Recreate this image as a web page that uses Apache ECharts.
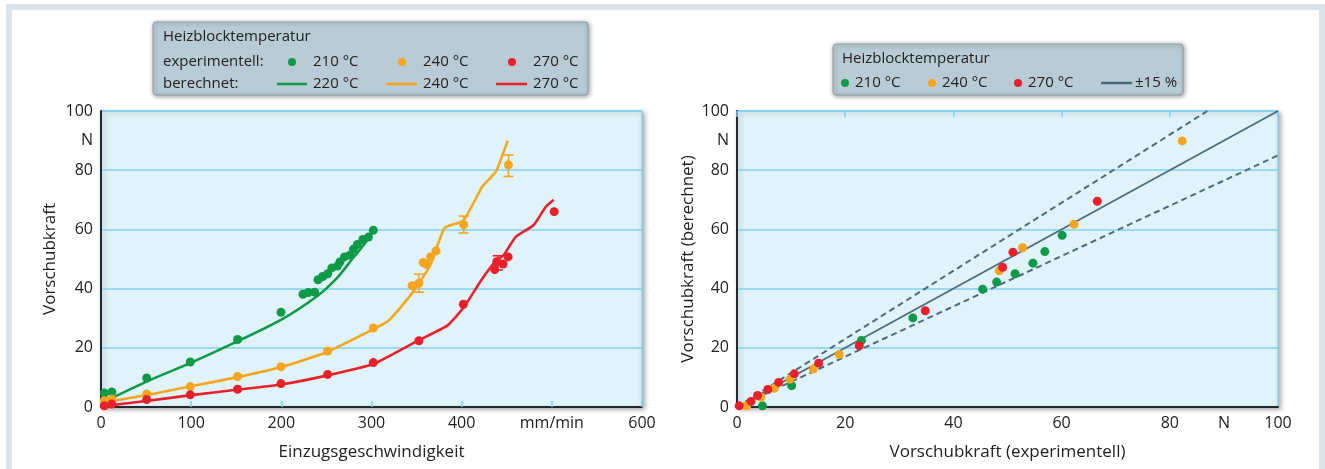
<!DOCTYPE html>
<html>
<head>
<meta charset="utf-8">
<script src="https://cdn.jsdelivr.net/npm/echarts@6/dist/echarts.min.js"></script>
<style>
  html, body { margin: 0; padding: 0; background: #fff; }
  #chart { width: 1325px; height: 469px; }
</style>
</head>
<body>
<div id="chart"></div>
<script>
  // left chart: Einzugsgeschwindigkeit (mm/min) vs Vorschubkraft (N)
  const exp210 = [[3.7, 4.7], [12, 5.1], [50.7, 9.8], [99, 15.2], [151.5, 22.8], [199.6, 32], [224, 38.1], [230, 38.7],
    [237, 38.8], [240.7, 43], [245.9, 44.1], [251.4, 45], [256, 47], [262.2, 47.6], [265, 49], [270, 50.7], [276, 51.3],
    [280, 53.3], [284.4, 54.9], [290.4, 56.6], [296.6, 57.4], [302, 59.7]]
  const exp240 = [[3.7, 2.1], [12, 2.7], [50.7, 4.4], [99, 6.9], [151.5, 10.3], [199.6, 13.6], [251.4, 18.9], [302, 26.7],
    [345, 41], [352.6, 41.8], [357.4, 48.8], [361, 48.2], [365.6, 50.8], [371.5, 52.7], [402.2, 61.6], [451.9, 81.8]]
  const exp270 = [[3.7, 0.4], [12, 1], [50.7, 2.5], [99, 4.1], [151.5, 6], [199.6, 7.9], [251.4, 11], [302, 15],
    [352.6, 22.4], [401.9, 34.7], [436.7, 46.4], [438.9, 49.1], [445.9, 48.3], [451.5, 50.7], [502.6, 66]]
  const calc220 = [[5, 2], [50, 8.5], [100, 15], [150, 22], [200, 29.5], [240, 37.5], [260, 43], [280, 50.5], [292, 55], [300, 58.5]]
  const calc240 = [[3, 1.5], [50, 4], [100, 7], [150, 10], [200, 13.5], [250, 18.5], [300, 26], [318, 29], [336, 35],
    [352, 41.5], [366, 48.5], [381, 60.5], [402, 63], [423, 74.5], [438, 79.5], [451, 90]]
  const calc270 = [[3, 0.3], [50, 2], [100, 4], [150, 5.8], [200, 7.6], [250, 10.6], [302, 14.5], [352, 22.5], [384, 27.5],
    [402, 33.5], [421, 42.5], [437, 49], [447, 51.5], [460, 57.5], [480, 61.5], [493, 67.5], [502, 70]]
  // error bars [x, low, high]
  const err240 = [[352.6, 38.8, 44.9], [402.2, 58.8, 64.5], [451.9, 77.9, 85.1]]
  const err270 = [[440, 46.3, 51.1]]

  // right chart: experimentell vs berechnet
  const cmp210 = [[4.7, 0.4], [10.1, 7.2], [23, 22.5], [32.5, 30.1], [45.4, 39.8], [48, 42.2], [51.4, 45], [54.7, 48.6], [56.9, 52.5], [60.1, 58]]
  const cmp240 = [[1.8, 0.4], [4.4, 3.3], [6.9, 6.3], [9.8, 9.4], [14.1, 12.8], [18.9, 17.7], [48.5, 46], [52.8, 53.8], [62.3, 61.7], [82.3, 89.9]]
  const cmp270 = [[0.4, 0.4], [2.6, 1.9], [3.8, 3.9], [5.7, 5.9], [7.7, 8.3], [10.6, 11.2], [15.1, 14.8], [22.6, 20.7],
    [34.8, 32.5], [49.1, 47.2], [51, 52.3], [66.6, 69.5]]
  const lineIdeal = [[0, 0], [100, 100]]
  const linePlus = [[0, 0], [100 / 1.15, 100]]
  const lineMinus = [[0, 0], [100, 85]]

  // tick labels
  const leftXUnit = { 500: 'mm/min' }
  const rightXUnit = { 90: 'N' }
  const yUnit = { 90: 'N' }

  const GREEN = '#0f9a48'
  const ORANGE = '#f7a51e'
  const RED = '#e8202a'
  const SLATE = '#4b6a7e'
  const GRIDLINE = '#80d0f0'
  const FONT = 'Open Sans'

  const myChart = echarts.init(document.getElementById('chart'))

  function errRender(color) {
    return function (params, api) {
      const x = api.value(0)
      const p1 = api.coord([x, api.value(1)])
      const p2 = api.coord([x, api.value(2)])
      const s = { stroke: color, lineWidth: 1.6 }
      return {
        type: 'group',
        children: [
          { type: 'line', shape: { x1: p1[0], y1: p1[1], x2: p2[0], y2: p2[1] }, style: s },
          { type: 'line', shape: { x1: p1[0] - 5, y1: p1[1], x2: p1[0] + 5, y2: p1[1] }, style: s },
          { type: 'line', shape: { x1: p2[0] - 5, y1: p2[1], x2: p2[0] + 5, y2: p2[1] }, style: s }
        ]
      }
    }
  }

  function yLabel(v) {
    if (yUnit[v]) return yUnit[v]
    return v % 20 === 0 ? String(v) : ''
  }

  const axisText = { color: '#222', fontFamily: FONT, fontSize: 16 }
  const nameText = { color: '#222', fontFamily: FONT, fontSize: 17 }
  const gridBase = {
    show: true, backgroundColor: '#e1f3fa', borderColor: GRIDLINE, borderWidth: 1.2,
    shadowBlur: 5, shadowColor: 'rgba(0,0,0,0.35)', shadowOffsetX: 2, shadowOffsetY: 2
  }

  function yAxisFor(gridIndex, name, gap) {
    return {
      gridIndex: gridIndex, type: 'value', min: 0, max: 100, interval: 10,
      name: name, nameLocation: 'middle', nameGap: gap,
      nameTextStyle: nameText,
      axisLine: { show: true, lineStyle: { color: '#1e2a30', width: 2 } },
      axisTick: { show: false },
      axisLabel: Object.assign({ formatter: yLabel, margin: 8 }, axisText),
      splitLine: { show: true, lineStyle: { color: [GRIDLINE, 'transparent'], width: 1.5 } }
    }
  }

  function legendText(x, y, text) {
    return { type: 'text', x: x, y: y, style: { text: text, fill: '#222', font: '15px "' + FONT + '"', verticalAlign: 'middle' } }
  }
  function legendDot(x, y, color) {
    return { type: 'circle', shape: { cx: x, cy: y, r: 4 }, style: { fill: color } }
  }
  function legendLine(x1, x2, y, color) {
    return { type: 'line', shape: { x1: x1, y1: y, x2: x2, y2: y }, style: { stroke: color, lineWidth: 2.5 } }
  }
  function legendBox(x, y, w, h) {
    return {
      type: 'rect', shape: { x: x, y: y, width: w, height: h, r: 3 },
      style: { fill: '#b9cbd4', stroke: '#8e9ea6', lineWidth: 1, shadowBlur: 5, shadowColor: 'rgba(0,0,0,0.4)', shadowOffsetX: 1, shadowOffsetY: 1 }
    }
  }

  const option = {
    animation: false,
    backgroundColor: '#fff',
    graphic: [
      { type: 'rect', shape: { x: 9, y: 7, width: 1313, height: 520 }, style: { fill: 'none', stroke: '#dce3e9', lineWidth: 6 }, z: -10 },
      // left legend
      legendBox(153, 22, 435, 73),
      legendText(163, 37, 'Heizblocktemperatur'),
      legendText(163, 62, 'experimentell:'),
      legendDot(292, 62, GREEN), legendText(313, 62, '210 °C'),
      legendDot(402, 62, ORANGE), legendText(423, 62, '240 °C'),
      legendDot(512, 62, RED), legendText(533, 62, '270 °C'),
      legendText(163, 84, 'berechnet:'),
      legendLine(277, 307, 84, GREEN), legendText(313, 84, '220 °C'),
      legendLine(386, 417, 84, ORANGE), legendText(423, 84, '240 °C'),
      legendLine(496, 527, 84, RED), legendText(533, 84, '270 °C'),
      // right legend
      legendBox(833, 44, 350, 51),
      legendText(842, 59, 'Heizblocktemperatur'),
      legendDot(845, 83, GREEN), legendText(855, 83, '210 °C'),
      legendDot(932, 83, ORANGE), legendText(942, 83, '240 °C'),
      legendDot(1018, 83, RED), legendText(1028, 83, '270 °C'),
      legendLine(1101, 1132, 83, SLATE), legendText(1135, 83, '±15 %')
    ],
    grid: [
      Object.assign({ left: 101, right: 683, top: 111, bottom: 62 }, gridBase),
      Object.assign({ left: 737, right: 47, top: 111, bottom: 62 }, gridBase)
    ],
    xAxis: [
      {
        gridIndex: 0, type: 'value', min: 0, max: 600, interval: 100,
        name: 'Einzugsgeschwindigkeit', nameLocation: 'middle', nameGap: 37,
        nameTextStyle: nameText,
        axisLine: { show: true, lineStyle: { color: '#1e2a30', width: 2 } },
        axisTick: { show: true, inside: true, length: 6, lineStyle: { color: GRIDLINE, width: 1.5 } },
        axisLabel: Object.assign({ margin: 8, formatter: v => leftXUnit[v] || String(v) }, axisText),
        splitLine: { show: false }
      },
      {
        gridIndex: 1, type: 'value', min: 0, max: 100, interval: 10,
        name: 'Vorschubkraft (experimentell)', nameLocation: 'middle', nameGap: 37,
        nameTextStyle: nameText,
        axisLine: { show: true, lineStyle: { color: '#1e2a30', width: 2 } },
        axisTick: { show: false },
        axisLabel: Object.assign({ margin: 8, formatter: v => rightXUnit[v] || (v % 20 === 0 ? String(v) : '') }, axisText),
        splitLine: { show: false }
      },
      {
        gridIndex: 1, type: 'value', min: 0, max: 100, interval: 20,
        axisLine: { show: false },
        axisTick: { show: true, inside: true, length: 6, lineStyle: { color: GRIDLINE, width: 1.5 } },
        axisLabel: { show: false },
        splitLine: { show: false }
      }
    ],
    yAxis: [
      yAxisFor(0, 'Vorschubkraft', 42),
      yAxisFor(1, 'Vorschubkraft (berechnet)', 40)
    ],
    series: [
      { name: 'ber220', type: 'line', xAxisIndex: 0, yAxisIndex: 0, data: calc220, showSymbol: false, smooth: 0.3, lineStyle: { color: GREEN, width: 2.6 } },
      { name: 'ber240', type: 'line', xAxisIndex: 0, yAxisIndex: 0, data: calc240, showSymbol: false, smooth: 0.15, lineStyle: { color: ORANGE, width: 2.6 } },
      { name: 'ber270', type: 'line', xAxisIndex: 0, yAxisIndex: 0, data: calc270, showSymbol: false, smooth: 0.15, lineStyle: { color: RED, width: 2.6 } },
      { name: 'err240', type: 'custom', xAxisIndex: 0, yAxisIndex: 0, data: err240, renderItem: errRender(ORANGE), z: 3 },
      { name: 'err270', type: 'custom', xAxisIndex: 0, yAxisIndex: 0, data: err270, renderItem: errRender(RED), z: 3 },
      { name: 'exp210', type: 'scatter', xAxisIndex: 0, yAxisIndex: 0, data: exp210, symbolSize: 9, itemStyle: { color: GREEN, opacity: 1 }, z: 4 },
      { name: 'exp240', type: 'scatter', xAxisIndex: 0, yAxisIndex: 0, data: exp240, symbolSize: 9, itemStyle: { color: ORANGE, opacity: 1 }, z: 4 },
      { name: 'exp270', type: 'scatter', xAxisIndex: 0, yAxisIndex: 0, data: exp270, symbolSize: 9, itemStyle: { color: RED, opacity: 1 }, z: 4 },

      { name: 'ideal', type: 'line', xAxisIndex: 1, yAxisIndex: 1, data: lineIdeal, showSymbol: false, lineStyle: { color: SLATE, width: 1.8 } },
      { name: 'plus15', type: 'line', xAxisIndex: 1, yAxisIndex: 1, data: linePlus, showSymbol: false, lineStyle: { color: SLATE, width: 2, type: [6, 4] } },
      { name: 'minus15', type: 'line', xAxisIndex: 1, yAxisIndex: 1, data: lineMinus, showSymbol: false, lineStyle: { color: SLATE, width: 2, type: [6, 4] } },
      { name: 'cmp210', type: 'scatter', xAxisIndex: 1, yAxisIndex: 1, data: cmp210, symbolSize: 9, itemStyle: { color: GREEN, opacity: 1 }, z: 4 },
      { name: 'cmp240', type: 'scatter', xAxisIndex: 1, yAxisIndex: 1, data: cmp240, symbolSize: 9, itemStyle: { color: ORANGE, opacity: 1 }, z: 4 },
      { name: 'cmp270', type: 'scatter', xAxisIndex: 1, yAxisIndex: 1, data: cmp270, symbolSize: 9, itemStyle: { color: RED, opacity: 1 }, z: 4 }
    ]
  }

  myChart.setOption(option)
</script>
</body>
</html>
